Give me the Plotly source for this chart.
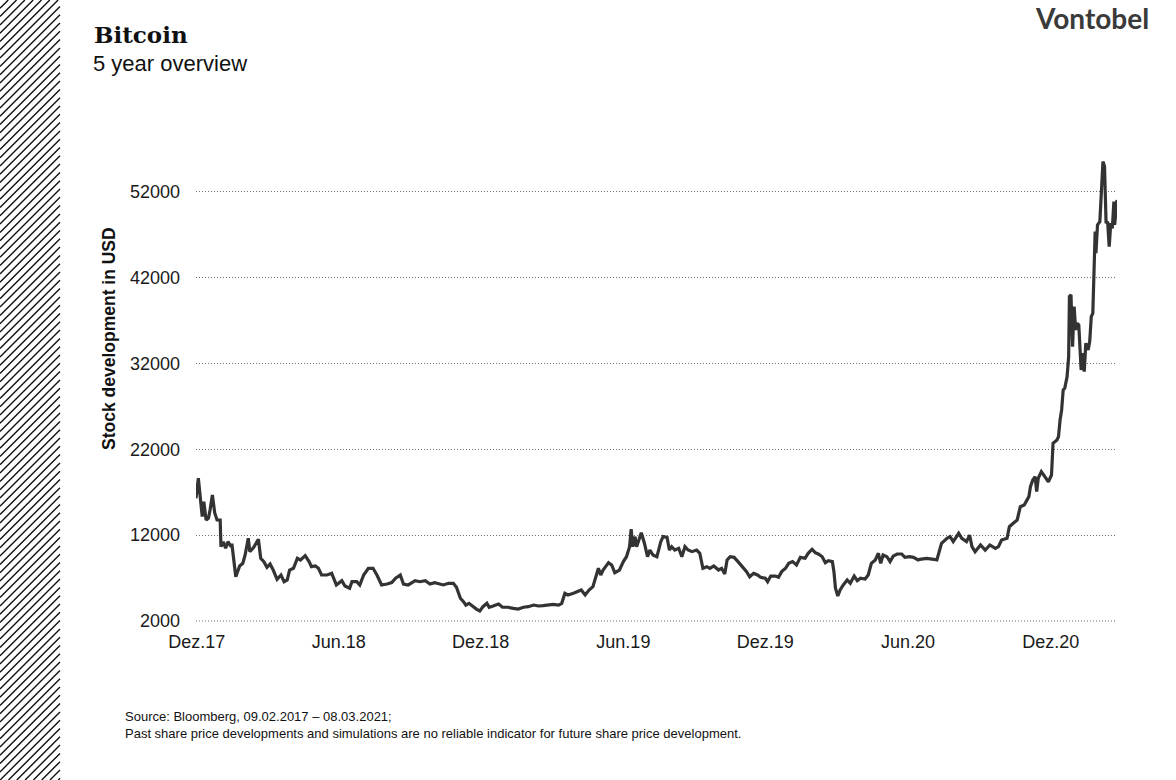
import plotly.graph_objects as go

# ---------------- data ----------------
dates = [
"2017-12-13","2017-12-16","2017-12-21","2017-12-23","2017-12-26","2017-12-29","2017-12-31",
"2018-01-03","2018-01-06","2018-01-09","2018-01-13","2018-01-14","2018-01-17","2018-01-20","2018-01-23","2018-01-27","2018-01-28",
"2018-02-02","2018-02-07","2018-02-11","2018-02-14","2018-02-18","2018-02-20","2018-02-25",
"2018-03-03","2018-03-06","2018-03-10","2018-03-14","2018-03-18","2018-03-22","2018-03-27",
"2018-04-01","2018-04-05","2018-04-09","2018-04-12","2018-04-17","2018-04-22","2018-04-26",
"2018-05-02","2018-05-07","2018-05-10","2018-05-15","2018-05-19","2018-05-23","2018-05-30",
"2018-06-05","2018-06-11","2018-06-18","2018-06-22","2018-06-28",
"2018-07-01","2018-07-07","2018-07-11","2018-07-16","2018-07-22","2018-07-28",
"2018-08-02","2018-08-08","2018-08-15","2018-08-21","2018-08-26",
"2018-09-01","2018-09-05","2018-09-11","2018-09-16","2018-09-20","2018-09-26",
"2018-10-03","2018-10-09","2018-10-15","2018-10-18","2018-10-26",
"2018-11-02","2018-11-08","2018-11-12","2018-11-17","2018-11-21","2018-11-24","2018-11-28",
"2018-12-03","2018-12-08","2018-12-12","2018-12-16","2018-12-21","2018-12-24","2018-12-29",
"2019-01-05","2019-01-10","2019-01-17","2019-01-24","2019-01-30",
"2019-02-06","2019-02-12","2019-02-19","2019-02-25",
"2019-03-03","2019-03-10","2019-03-16","2019-03-23","2019-03-27","2019-03-31",
"2019-04-04","2019-04-11","2019-04-17","2019-04-21","2019-04-26",
"2019-05-01","2019-05-06","2019-05-11","2019-05-13","2019-05-16","2019-05-19","2019-05-26","2019-05-30",
"2019-06-03","2019-06-09","2019-06-14","2019-06-18","2019-06-22","2019-06-24","2019-06-26","2019-06-29",
"2019-07-01","2019-07-05","2019-07-07","2019-07-11","2019-07-15","2019-07-18","2019-07-22","2019-07-27",
"2019-08-01","2019-08-04","2019-08-09","2019-08-12","2019-08-15","2019-08-19","2019-08-24","2019-08-28",
"2019-09-01","2019-09-05","2019-09-10","2019-09-16","2019-09-20","2019-09-24","2019-09-29",
"2019-10-03","2019-10-08","2019-10-14","2019-10-18","2019-10-22","2019-10-25","2019-10-29",
"2019-11-03","2019-11-08","2019-11-14","2019-11-19","2019-11-23","2019-11-28",
"2019-12-03","2019-12-07","2019-12-13","2019-12-16","2019-12-20","2019-12-26","2019-12-30",
"2020-01-03","2020-01-08","2020-01-12","2020-01-17","2020-01-22","2020-01-27",
"2020-02-02","2020-02-06","2020-02-11","2020-02-15","2020-02-19","2020-02-24","2020-02-28",
"2020-03-03","2020-03-08","2020-03-10","2020-03-12","2020-03-15","2020-03-18","2020-03-22","2020-03-27","2020-03-31",
"2020-04-05","2020-04-09","2020-04-13","2020-04-19","2020-04-23","2020-04-27",
"2020-05-02","2020-05-06","2020-05-09","2020-05-12","2020-05-17","2020-05-21","2020-05-25","2020-05-30",
"2020-06-05","2020-06-09","2020-06-15","2020-06-20","2020-06-26","2020-06-28",
"2020-07-07","2020-07-16","2020-07-20","2020-07-26",
"2020-08-02","2020-08-06","2020-08-10","2020-08-17","2020-08-21","2020-08-27","2020-08-31",
"2020-09-03","2020-09-07","2020-09-14","2020-09-20","2020-09-26",
"2020-10-03","2020-10-07","2020-10-11","2020-10-18","2020-10-21","2020-10-26","2020-10-31",
"2020-11-04","2020-11-09","2020-11-15","2020-11-17","2020-11-20","2020-11-23","2020-11-25","2020-11-27",
"2020-12-01","2020-12-06","2020-12-10","2020-12-14","2020-12-16","2020-12-21","2020-12-23","2020-12-25","2020-12-27","2020-12-29","2020-12-31",
"2021-01-03","2021-01-05","2021-01-06","2021-01-08","2021-01-10","2021-01-12","2021-01-14","2021-01-16","2021-01-18","2021-01-21","2021-01-23","2021-01-25","2021-01-27","2021-01-30",
"2021-02-01","2021-02-03","2021-02-05","2021-02-06","2021-02-08","2021-02-09","2021-02-11","2021-02-14","2021-02-16","2021-02-18","2021-02-20","2021-02-22","2021-02-24","2021-02-26","2021-02-28",
"2021-03-02","2021-03-04","2021-03-05","2021-03-08",
]

prices = [
16300,18630,14160,15900,13770,14000,14940,
16690,14590,13770,13770,10660,11240,10470,11240,10660,11000,
7160,8410,8720,9690,11640,10080,10590,
11520,9310,8920,8260,8640,7940,6860,
7360,6580,6780,7940,8140,9310,9110,
9610,8920,8330,8410,8140,7360,7360,
7560,6200,6700,6080,5810,
6580,6580,6200,7360,8140,8140,
7360,6200,6310,6470,6980,
7360,6310,6200,6470,6700,6580,
6700,6310,6470,6390,6200,
6390,6390,5930,4650,4250,3860,4060,
3670,3360,3170,3670,4060,3600,3750,
3980,3600,3600,3480,3400,
3600,3670,3860,3750,
3790,3860,3940,3860,4060,5230,
5030,5230,5420,5610,5030,
5610,6000,7750,8140,7360,7940,8800,8530,
7630,7940,8920,9490,10660,12690,10660,11830,
10660,11640,12290,11060,9490,10270,9690,9490,
11240,11830,11750,10270,10660,10270,10470,9490,
10660,10270,10080,10270,9890,8140,8330,
8140,8410,7940,8140,7480,9110,9490,
9420,8920,8330,7750,7160,7560,
7360,7090,6980,6580,7240,7240,7090,
7750,8140,8720,8920,8530,9420,
9310,9890,10360,9970,9810,9490,8800,
9030,8920,7750,5810,4910,5610,6200,6780,6390,
7240,6700,6980,6890,7360,8720,
9110,9890,8720,9690,9490,8920,9560,9810,
9810,9420,9490,9420,9110,9190,
9300,9190,9110,11060,
11640,11830,11250,12220,11640,11250,12000,
10660,10080,10860,10270,10860,
10470,10660,11440,11640,12990,13390,13770,
15320,15520,16490,17650,18430,18820,17070,18630,
19400,18820,18230,19010,22710,23100,23490,25430,26590,28920,29120,
30470,32800,39800,40000,33970,38630,35920,36700,36500,31250,33200,31060,34370,33590,
34560,37470,37860,42130,47370,44850,48150,48540,52620,55540,54960,48350,48540,45630,48350,
47760,50870,48150,51070,
]

tick_dates = ["2017-12-14", "2018-06-14", "2018-12-13", "2019-06-14",
              "2019-12-13", "2020-06-13", "2020-12-13"]
tick_labels = ["Dez.17", "Jun.18", "Dez.18", "Jun.19", "Dez.19", "Jun.20", "Dez.20"]
y_ticks = [2000, 12000, 22000, 32000, 42000, 52000]

# ---------------- layout geometry ----------------
W, H = 1176, 780
L, R, T, B = 196, 59, 149, 159
PW, PH = W - L - R, H - T - B


def px(x):
    return (x - L) / PW


def py(y):
    return (H - B - y) / PH


GRID_DASH = "1px,2px"
GRID_COLOR = "#6e6e6e"

fig = go.Figure()
fig.add_trace(go.Scatter(
    x=dates, y=prices, mode="lines",
    line=dict(color="#333333", width=3.2),
    hoverinfo="skip", showlegend=False,
))

FONT = "Liberation Sans, Arial, sans-serif"

fig.update_layout(
    width=W, height=H,
    margin=dict(l=L, r=R, t=T, b=B, pad=0),
    paper_bgcolor="white", plot_bgcolor="white",
    font=dict(family=FONT, color="#1a1a1a"),
    xaxis=dict(
        range=[dates[0], dates[-1]],
        tickmode="array", tickvals=tick_dates, ticktext=tick_labels,
        showgrid=False, zeroline=False, showline=False,
        ticks="", tickfont=dict(size=18, family=FONT, color="#1a1a1a"),
        ticklabelstandoff=8,
    ),
    yaxis=dict(
        range=[y_ticks[0], 57000],
        tickmode="array", tickvals=y_ticks,
        ticktext=[str(v) for v in y_ticks],
        showgrid=True, gridcolor=GRID_COLOR, gridwidth=1, griddash=GRID_DASH,
        zeroline=False, showline=False, ticks="",
        tickfont=dict(size=18, family=FONT, color="#1a1a1a"),
        ticklabelstandoff=15,
    ),
)

# baseline gridline at the lowest tick (= bottom of the y range)
fig.add_shape(type="line", xref="paper", x0=0, x1=1, yref="paper",
              y0=0, y1=0,
              line=dict(color=GRID_COLOR, width=1, dash=GRID_DASH), layer="above")

ann = []
ann.append(dict(text="<b>Bitcoin</b>", x=px(92), y=py(35), xref="paper", yref="paper",
                xanchor="left", yanchor="middle", showarrow=False,
                font=dict(family="DejaVu Serif, serif", size=23, color="#111111")))
ann.append(dict(text="5 year overview", x=px(91), y=py(63), xref="paper", yref="paper",
                xanchor="left", yanchor="middle", showarrow=False,
                font=dict(family=FONT, size=22, color="#111111")))
ann.append(dict(text="<b>Vontobel</b>", x=px(1151), y=py(18), xref="paper", yref="paper",
                xanchor="right", yanchor="middle", showarrow=False,
                font=dict(family="Lato, Inter, sans-serif", size=28, color="#3a3a3a")))
ann.append(dict(text="<b>Stock development in USD</b>", x=px(109), y=py(339),
                xref="paper", yref="paper", xanchor="center", yanchor="middle",
                textangle=-90, showarrow=False,
                font=dict(family=FONT, size=17.5, color="#111111")))
ann.append(dict(text="Source: Bloomberg, 09.02.2017 \u2013 08.03.2021;<br>"
                     "Past share price developments and simulations are no reliable indicator for future share price development.",
                x=px(123), y=py(707), xref="paper", yref="paper",
                xanchor="left", yanchor="top", align="left", showarrow=False,
                font=dict(family=FONT, size=13, color="#111111")))
fig.update_layout(annotations=ann)

# left hatched strip
strip_w = 60
step = 8.3
segs = []
c = 0.0
while c < H + strip_w + step:
    y_top = max(0.0, c - strip_w)
    x_top = c - y_top
    y_bot = min(float(H), c)
    x_bot = c - y_bot
    if x_top >= 0 and y_top <= H:
        segs.append(f"M{px(x_top):.5f},{py(y_top):.5f}L{px(x_bot):.5f},{py(y_bot):.5f}")
    c += step
fig.add_shape(type="path", path="".join(segs), xref="paper", yref="paper",
              line=dict(color="#111111", width=1.4), layer="above")

fig.write_html("out.html", config={"displayModeBar": False},
               post_script="document.body.style.margin='0px';document.body.style.overflow='hidden';")
